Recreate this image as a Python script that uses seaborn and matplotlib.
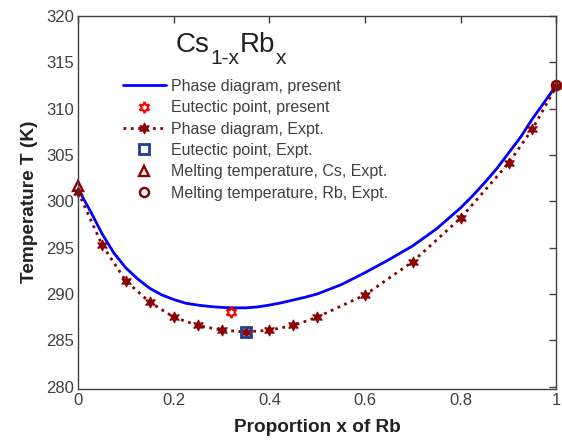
import numpy as np
import seaborn as sns
import matplotlib.pyplot as plt
import pandas as pd

# data
x_present = [0, 0.025, 0.05, 0.075, 0.1, 0.125, 0.15, 0.175, 0.2, 0.225, 0.25, 0.275,
             0.3, 0.325, 0.35, 0.375, 0.4, 0.425, 0.45, 0.475, 0.5, 0.55, 0.6, 0.65,
             0.7, 0.75, 0.8, 0.825, 0.85, 0.875, 0.9, 0.925, 0.95, 0.975, 1.0]
t_present = [301.3, 299.0, 296.5, 294.4, 292.8, 291.6, 290.6, 289.9, 289.4, 289.0, 288.8, 288.65,
             288.55, 288.5, 288.5, 288.6, 288.8, 289.05, 289.35, 289.65, 290.0, 291.0, 292.3, 293.7,
             295.2, 297.05, 299.3, 300.6, 302.0, 303.5, 305.2, 306.9, 308.9, 310.7, 312.5]

x_expt = [0, 0.05, 0.1, 0.15, 0.2, 0.25, 0.3, 0.35, 0.4, 0.45, 0.5,
          0.6, 0.7, 0.8, 0.9, 0.95, 1.0]
t_expt = [301.0, 295.3, 291.4, 289.1, 287.5, 286.6, 286.1, 285.9, 286.1, 286.6, 287.5,
          289.9, 293.5, 298.2, 304.1, 307.8, 312.4]

eut_present = (0.32, 288.1)
eut_expt = (0.35, 285.9)
melt_cs = (0.0, 301.6)
melt_rb = (1.0, 312.5)

sns.set_style('white')
plt.rcParams['font.family'] = ['Liberation Sans', 'DejaVu Sans']

fig = plt.figure(figsize=(5.62, 4.4), dpi=100)
ax = fig.add_axes([0.139, 0.117, 0.851, 0.847])

dark = '#8b0000'
sns.lineplot(x=x_present, y=t_present, color='#0000ff', lw=2, ax=ax,
             label='Phase diagram, present', clip_on=False)
ax.plot(*eut_present, ls='none', marker=(6, 1, 0), ms=8, mfc='none', mec='#ff0000',
        mew=1.5, label='Eutectic point, present', clip_on=False)
sns.lineplot(x=x_expt, y=t_expt, color=dark, lw=2, ls=':', marker=(6, 1, 0), ms=8,
             mec=dark, mfc=dark, ax=ax, label='Phase diagram, Expt.', clip_on=False)
ax.plot(*eut_expt, ls='none', marker='s', ms=7, mfc='none', mec='#1f3f8f', mew=2,
        label='Eutectic point, Expt.', clip_on=False)
ax.plot(*melt_cs, ls='none', marker='^', ms=7, mfc='none', mec=dark, mew=1.7,
        label='Melting temperature, Cs, Expt.', clip_on=False)
ax.plot(*melt_rb, ls='none', marker='o', ms=6.5, mfc='none', mec=dark, mew=1.8,
        label='Melting temperature, Rb, Expt.', clip_on=False)

ax.set_xlim(0, 1)
ax.set_ylim(279.8, 320)
ax.set_xticks([0, 0.2, 0.4, 0.6, 0.8, 1])
ax.set_xticklabels(['0', '0.2', '0.4', '0.6', '0.8', '1'])
ax.set_yticks(np.arange(280, 321, 5))
ax.tick_params(direction='in', top=True, right=True, length=5, width=1,
               color='#404040', labelcolor='#404040', labelsize=12, pad=3)
for s in ax.spines.values():
    s.set_color('#404040')
    s.set_linewidth(1)

ax.set_xlabel('Proportion x of Rb', fontsize=13.7, fontweight='bold', color='#222222',
              labelpad=8)
ax.set_ylabel('Temperature T (K)', fontsize=13.7, fontweight='bold', color='#222222',
              labelpad=6)

# formula title: Cs_{1-x} Rb_x with big, low subscripts
t1 = ax.text(0.203, 0.902, 'Cs', transform=ax.transAxes, fontsize=20,
             color='#222222', ha='left', va='baseline')
t2 = ax.annotate('1-x', xy=(1, 0), xycoords=t1, xytext=(1, -7), textcoords='offset points',
                 fontsize=15, color='#222222', ha='left', va='bottom')
t3 = ax.annotate('Rb', xy=(1, 0), xycoords=(t2, t1), xytext=(0, 0), textcoords='offset points',
                 fontsize=20, color='#222222', ha='left', va='bottom')
ax.annotate('x', xy=(1, 0), xycoords=(t3, t2), xytext=(1, 0), textcoords='offset points',
            fontsize=15, color='#222222', ha='left', va='bottom')

leg = ax.legend(loc='upper left', bbox_to_anchor=(0.08, 0.848), frameon=False,
                fontsize=11.5, handlelength=2.7, handletextpad=0.35, labelspacing=0.4,
                borderaxespad=0)
for t in leg.get_texts():
    t.set_color('#404040')

fig.savefig('out.png', dpi=100)
